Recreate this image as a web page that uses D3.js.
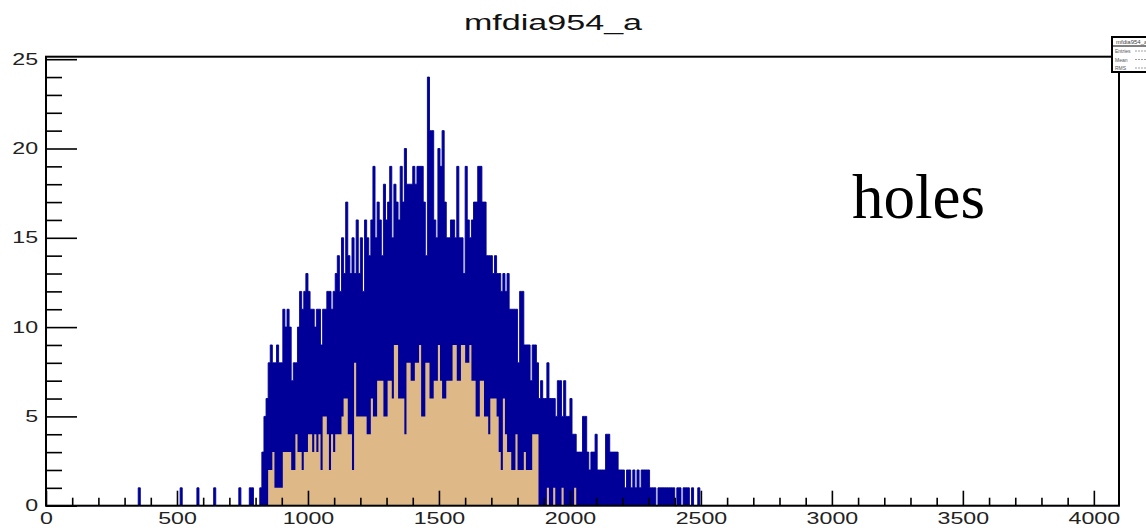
<!DOCTYPE html>
<html>
<head>
<meta charset="utf-8">
<script src="https://cdn.jsdelivr.net/npm/d3@7"></script>
<style>
  body { margin: 0; background: #fff; }
  svg { display: block; font-family: "Liberation Sans", Arial, sans-serif; }
</style>
</head>
<body>
<svg id="chart" width="1146" height="530"></svg>
<script>
const chartTitle = 'mfdia954_a';
const noteText = 'holes';
const binWidth = 8;
const xMax = 4096;
const yMax = 25.14;

// x-axis ticks
const xMajorTicks = [0, 500, 1000, 1500, 2000, 2500, 3000, 3500, 4000];
const xMinorTicks = d3.range(0, 4100, 100).filter(v => v % 500 !== 0);
const yMajorTicks = [0, 5, 10, 15, 20, 25];
const yMinorTicks = d3.range(0, 26, 1).filter(v => v % 5 !== 0);

// single entries of the blue histogram left of the main bump (bin low edge)
const blueLoneBins = [352, 512, 576, 640, 736, 776, 784];

// main bump, one count per 8-wide bin starting at mainStart
const mainStart = 816;
const blueCounts = [
    1, 3, 5, 6, 8, 9, 8, 8, 9, 8,
    8, 11, 10, 11, 10, 7, 8, 8, 10, 12,
    11, 12, 13, 12, 11, 11, 10, 11, 11, 9,
    11, 11, 12, 12, 11, 12, 13, 14, 12, 15,
    13, 17, 14, 13, 15, 13, 16, 13, 15, 12,
    16, 15, 14, 16, 19, 15, 17, 16, 14, 18,
    16, 17, 19, 15, 18, 17, 16, 19, 17, 20,
    18, 18, 18, 19, 18, 19, 19, 19, 17, 14,
    24, 21, 21, 16, 15, 20, 19, 21, 17, 15,
    15, 16, 16, 15, 19, 15, 15, 13, 19, 16,
    15, 16, 17, 17, 19, 19, 17, 17, 14, 14,
    14, 13, 14, 13, 13, 12, 13, 12, 13, 11,
    11, 11, 11, 8, 12, 12, 9, 9, 9, 7,
    9, 9, 8, 6, 7, 6, 6, 8, 6, 6,
    6, 5, 7, 7, 5, 7, 5, 5, 6, 4,
    4, 3, 3, 3, 5, 5, 3, 2, 3, 3,
    4, 2, 2, 2, 2, 4, 4, 3, 3, 3,
    3, 2, 2, 2, 1, 2, 2, 1, 2, 1,
    2, 1, 2, 2, 2, 2, 1, 1, 1, 0,
    1, 1, 1, 1, 1, 1, 1, 1, 0, 1,
    1, 0, 1, 1, 1, 0, 1, 0, 0, 1
];
const tanCounts = [
    0, 0, 0, 0, 2, 2, 3, 1, 1, 1,
    1, 3, 3, 3, 3, 2, 2, 4, 3, 3,
    2, 3, 3, 4, 4, 3, 4, 3, 4, 2,
    5, 5, 4, 2, 4, 3, 4, 4, 4, 5,
    6, 6, 4, 4, 2, 8, 5, 5, 5, 5,
    5, 4, 4, 6, 5, 5, 7, 7, 7, 5,
    5, 7, 7, 6, 9, 9, 6, 6, 6, 4,
    8, 8, 7, 7, 8, 8, 9, 5, 5, 8,
    8, 6, 6, 7, 7, 9, 7, 6, 6, 7,
    7, 7, 9, 9, 7, 7, 9, 9, 8, 8,
    9, 7, 7, 5, 5, 7, 7, 5, 5, 4,
    6, 6, 6, 5, 3, 2, 6, 4, 3, 3,
    2, 2, 4, 2, 2, 2, 3, 2, 2, 2,
    4, 4, 4, 0, 0, 0, 0, 1, 0, 0,
    1, 0, 0, 0, 1, 0, 0, 0, 0, 0,
    1
];

const statsLabels = ['Entries', 'Mean', 'RMS'];

const svg = d3.select('#chart');

const frame = { left: 46, right: 1119, top: 56.7, bottom: 505.7 };

const x = d3.scaleLinear().domain([0, xMax]).range([frame.left, frame.right]);
const y = d3.scaleLinear().domain([0, yMax]).range([frame.bottom, frame.top]);

function fullHistogram(counts, lone) {
    const nBins = xMax / binWidth;
    const h = new Array(nBins).fill(0);
    lone.forEach(b => { h[b / binWidth] += 1; });
    counts.forEach((c, i) => { h[mainStart / binWidth + i] += c; });
    const pts = h.map((c, i) => ({ u: i * binWidth, c }));
    pts.push({ u: xMax, c: 0 });
    return pts;
}

const blueHist = fullHistogram(blueCounts, blueLoneBins);
const tanHist = fullHistogram(tanCounts, []);

const area = d3.area()
    .x(d => x(d.u))
    .y0(y(0))
    .y1(d => y(d.c))
    .curve(d3.curveStepAfter);

const line = d3.line()
    .x(d => x(d.u))
    .y(d => y(d.c))
    .curve(d3.curveStepAfter);

svg.append('path')
    .attr('d', area(blueHist))
    .attr('fill', '#000099');

svg.append('path')
    .attr('d', line(blueHist))
    .attr('fill', 'none')
    .attr('stroke', '#000099')
    .attr('stroke-width', 0.9);

svg.append('path')
    .attr('d', area(tanHist))
    .attr('fill', '#deb887');

// frame
svg.append('rect')
    .attr('x', frame.left)
    .attr('y', frame.top)
    .attr('width', frame.right - frame.left)
    .attr('height', frame.bottom - frame.top)
    .attr('fill', 'none')
    .attr('stroke', '#000')
    .attr('stroke-width', 2);

const stretch = 1.45;
const plain = d3.format('d');

// x axis: minor then major ticks (pointing inward)
const xMinor = svg.append('g')
    .attr('transform', `translate(0,${frame.bottom})`)
    .call(d3.axisBottom(x).tickValues(xMinorTicks).tickSize(-8).tickFormat(''));

const xMajor = svg.append('g')
    .attr('transform', `translate(0,${frame.bottom})`)
    .call(d3.axisBottom(x).tickValues(xMajorTicks).tickSize(-15).tickPadding(7).tickFormat(plain));

const yMinor = svg.append('g')
    .attr('transform', `translate(${frame.left},0)`)
    .call(d3.axisLeft(y).tickValues(yMinorTicks).tickSize(-16).tickFormat(''));

const yMajor = svg.append('g')
    .attr('transform', `translate(${frame.left},0)`)
    .call(d3.axisLeft(y).tickValues(yMajorTicks).tickSize(-31).tickPadding(5.5).tickFormat(plain));

[xMinor, xMajor, yMinor, yMajor].forEach(g => {
    g.select('.domain').remove();
    g.selectAll('.tick line').attr('stroke', '#000').attr('stroke-width', 1.6);
    g.selectAll('.tick text')
        .attr('fill', '#222')
        .attr('font-size', 16)
        .attr('font-family', '"Liberation Sans", Arial, sans-serif')
        .attr('transform', `scale(${stretch},1)`);
});

// title
svg.append('text')
    .attr('transform', `translate(553,30) scale(1.55,1)`)
    .attr('text-anchor', 'middle')
    .attr('font-size', 22)
    .attr('fill', '#111')
    .text(chartTitle);

// annotation
svg.append('text')
    .attr('x', 852)
    .attr('y', 218)
    .attr('font-family', '"Liberation Serif", "Times New Roman", serif')
    .attr('font-size', 63)
    .attr('fill', '#000')
    .text(noteText);

// stats box, cut by the right edge
const stats = svg.append('g');
stats.append('rect')
    .attr('x', 1112)
    .attr('y', 37)
    .attr('width', 60)
    .attr('height', 35)
    .attr('fill', '#fff')
    .attr('stroke', '#000')
    .attr('stroke-width', 2);
stats.append('line')
    .attr('x1', 1112).attr('x2', 1172)
    .attr('y1', 46).attr('y2', 46)
    .attr('stroke', '#000').attr('stroke-width', 1);
stats.append('text')
    .attr('x', 1116).attr('y', 44)
    .attr('font-size', 6)
    .attr('fill', '#444')
    .text(chartTitle);
statsLabels.forEach((s, i) => {
    stats.append('text')
        .attr('x', 1115)
        .attr('y', 53 + i * 8.5)
        .attr('font-size', 5)
        .attr('fill', '#555')
        .text(s);
    stats.append('line')
        .attr('x1', 1135).attr('x2', 1146)
        .attr('y1', 51 + i * 8.5).attr('y2', 51 + i * 8.5)
        .attr('stroke', '#888').attr('stroke-width', 0.8)
        .attr('stroke-dasharray', '2,1');
});
</script>
</body>
</html>
